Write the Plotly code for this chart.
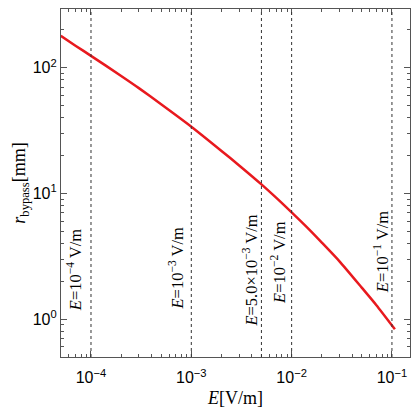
import plotly.graph_objects as go
import math

# Data
E_vals = [5e-5, 7e-5, 1e-4, 2e-4, 3e-4, 5e-4, 1e-3, 2e-3, 3e-3, 5e-3, 7e-3,
          1e-2, 1.5e-2, 2e-2, 3e-2, 5e-2, 7e-2, 0.107]
r_vals = [179.5, 150.0, 124.5, 86.1, 68.9, 51.3, 34.0, 21.8, 16.7, 11.8, 9.25,
          7.06, 5.15, 4.06, 2.88, 1.78, 1.29, 0.83]

ref_E = [1e-4, 1e-3, 5e-3, 1e-2, 1e-1]
ref_labels = [
    "<i>E</i>=10<sup>−4</sup> V/m",
    "<i>E</i>=10<sup>−3</sup> V/m",
    "<i>E</i>=5.0×10<sup>−3</sup> V/m",
    "<i>E</i>=10<sup>−2</sup> V/m",
    "<i>E</i>=10<sup>−1</sup> V/m",
]
x_tickvals = [1e-4, 1e-3, 1e-2, 1e-1]
x_ticktext = ["10<sup>−4</sup>", "10<sup>−3</sup>", "10<sup>−2</sup>", "10<sup>−1</sup>"]
y_tickvals = [1, 10, 100]
y_ticktext = ["10<sup>0</sup>", "10<sup>1</sup>", "10<sup>2</sup>"]

x_minor = [m * 10.0 ** d for d in range(-5, 0) for m in range(2, 10)]
y_minor = [m * 10.0 ** d for d in range(-1, 3) for m in range(2, 10)]

# label placement (style): y-center in log units and x pixel shift
label_y = [0.397, 0.405, 0.389, 0.452, 0.540]
label_xshift = [-17, -15, -11, -13, -11]

fig = go.Figure()
fig.add_trace(go.Scatter(x=E_vals, y=r_vals, mode="lines", line_shape="spline",
                         line=dict(color="#e8191e", width=2.5, smoothing=0.6), showlegend=False))

for e in ref_E:
    fig.add_vline(x=e, line=dict(color="#333333", width=1, dash="dot"))

for e, t, yl, xs in zip(ref_E, ref_labels, label_y, label_xshift):
    fig.add_annotation(x=math.log10(e), y=yl, xref="x", yref="y", text=t,
                       textangle=-90, showarrow=False, xshift=xs,
                       xanchor="center", yanchor="middle",
                       font=dict(family="Liberation Serif", size=16.5, color="black"))

def axis_common(minor_vals):
    return dict(
        showline=True, linecolor="#555555", linewidth=1.2, mirror="allticks",
        ticks="inside", ticklen=6, tickcolor="#555555", tickwidth=1,
        showgrid=False, zeroline=False,
        minor=dict(ticks="inside", ticklen=3, tickcolor="#555555", tickwidth=1,
                   showgrid=False, tickmode="array", tickvals=minor_vals),
        tickfont=dict(family="Liberation Sans", size=16, color="black"),
    )

fig.update_xaxes(type="log", range=[-4.299, -0.82], tickvals=x_tickvals, ticktext=x_ticktext,
                 ticklabelstandoff=6,
                 title=dict(text="<i>E</i>[V/m]", font=dict(family="Liberation Serif", size=18, color="black"),
                            standoff=6),
                 **axis_common(x_minor))
fig.update_yaxes(type="log", range=[-0.302, 2.468], tickvals=y_tickvals, ticktext=y_ticktext,
                 title=dict(text="<i>r</i><sub>bypass</sub>[mm]", font=dict(family="Liberation Serif", size=18, color="black"),
                            standoff=2),
                 **axis_common(y_minor))

fig.update_layout(width=412, height=410, margin=dict(l=61, r=2, t=9, b=53),
                  plot_bgcolor="white", paper_bgcolor="white")

fig.write_html("out.html")
